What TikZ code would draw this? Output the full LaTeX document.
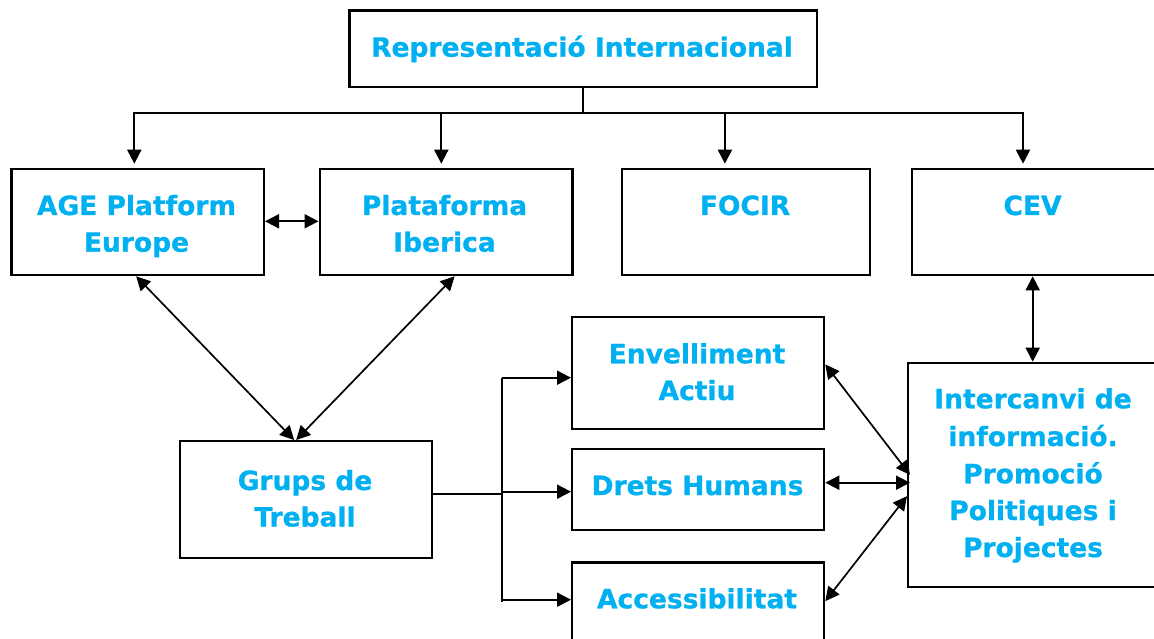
\documentclass[tikz,border=0pt]{standalone}
\usepackage{fontspec}
\setmainfont{DejaVu Sans}[BoldFeatures={FakeBold=0.8}]
\usetikzlibrary{arrows.meta}
\definecolor{txtblue}{RGB}{0,176,240}
\begin{document}
\begin{tikzpicture}[x=1pt,y=-1pt,
  box/.style={draw=black,line width=2.3pt,rectangle,anchor=north west,inner sep=0pt},
  lbl/.style={anchor=base,text=txtblue,font=\fontsize{26.5}{37}\selectfont\bfseries,inner sep=0pt},
  conn/.style={line width=2pt},
  diag/.style={line width=1.7pt},
  tri/.style={-{Triangle[length=14pt,width=14pt]}},
  dtri/.style={{Triangle[length=14pt,width=14pt]}-{Triangle[length=14pt,width=14pt]}}]
\useasboundingbox (0,0) rectangle (1154,639);
\fill[white] (0,0) rectangle (1154,639);

% boxes
\node[box,minimum width=467.7pt,minimum height=76.7pt] (rep) at (348.3,9.3) {};
\node[box,minimum width=252.4pt,minimum height=106.3pt] (age) at (10.3,167.7) {};
\node[box,minimum width=252.9pt,minimum height=106.3pt] (plat) at (318.5,167.7) {};
\node[box,minimum width=248pt,minimum height=106.3pt] (focir) at (620.8,167.7) {};
\node[box,minimum width=250pt,minimum height=106.3pt] (cev) at (910.8,167.7) {};
\node[box,minimum width=252pt,minimum height=116.7pt] (grups) at (179,440) {};
\node[box,minimum width=252pt,minimum height=112pt] (env) at (571,315.7) {};
\node[box,minimum width=252pt,minimum height=80.7pt] (drets) at (571,448) {};
\node[box,minimum width=252pt,minimum height=85pt] (acc) at (571,561.3) {};
\node[box,minimum width=253pt,minimum height=224pt] (inter) at (907,361.7) {};

% labels
\node[lbl] (trep) at (582,56.7) {Representació Internacional};
\node[lbl] (tage1) at (136.5,215) {AGE Platform};
\node[lbl] (tage2) at (136.5,251.7) {Europe};
\node[lbl] (tplat1) at (444.5,215) {Plataforma};
\node[lbl] (tplat2) at (444.5,251.7) {Iberica};
\node[lbl] (tfocir) at (745,215) {FOCIR};
\node[lbl] (tcev) at (1032.5,215) {CEV};
\node[lbl] (tgr1) at (305,490) {Grups de};
\node[lbl] (tgr2) at (305,526.5) {Treball};
\node[lbl] (tenv1) at (697,363.3) {Envelliment};
\node[lbl] (tenv2) at (697,400) {Actiu};
\node[lbl] (tdrets) at (697.5,495) {Drets Humans};
\node[lbl] (tacc) at (697,608.3) {Accessibilitat};
\node[lbl] (tin1) at (1033,408.3) {Intercanvi de};
\node[lbl] (tin2) at (1033,446) {informació.};
\node[lbl] (tin3) at (1033,483.3) {Promoció};
\node[lbl] (tin4) at (1033,520) {Politiques i};
\node[lbl] (tin5) at (1033,557) {Projectes};

% top distribution
\coordinate (bl) at (134.3,112.7);
\coordinate (b2) at (441.3,112.7);
\coordinate (b3) at (724.9,112.7);
\coordinate (br) at (1023,112.7);
\draw[conn] (rep.south) -- (rep.south |- bl);
\draw[conn,line cap=rect] (bl) -- (br);
\draw[conn,tri,shorten >=4pt] (bl) -- (bl |- age.north);
\draw[conn,tri,shorten >=4pt] (b2) -- (b2 |- plat.north);
\draw[conn,tri,shorten >=4pt] (b3) -- (b3 |- focir.north);
\draw[conn,tri,shorten >=4pt] (br) -- (br |- cev.north);

% AGE <-> Plataforma
\coordinate (ap) at (290,221.3);
\draw[conn,dtri] (age.east |- ap) -- (plat.west |- ap);

% diagonals to Grups
\draw[diag,dtri] ([xshift=-1.5pt]age.south) -- ([xshift=-12pt]grups.north);
\draw[diag,dtri] ([xshift=8.5pt]plat.south) -- ([xshift=-10pt]grups.north);

% Grups bus
\coordinate (gb) at (502,494);
\coordinate (bt) at (502,377.7);
\coordinate (bb) at (502,602);
\coordinate (bm) at (502,491.7);
\coordinate (ba) at (502,599.7);
\draw[conn] (grups.east |- gb) -- (gb);
\draw[conn] (bt) -- (bb);
\draw[conn,tri] (bt) -- (bt -| env.west);
\draw[conn,tri] (bm) -- (bm -| drets.west);
\draw[conn,tri] (ba) -- (ba -| acc.west);

% right side
\coordinate (dp) at (860,482.7);
\draw[diag,dtri] ([yshift=8.4pt]env.east) -- ([xshift=3pt]inter.west);
\draw[conn,dtri] (drets.east |- dp) -- ([xshift=3pt]inter.west |- dp);
\draw[diag,dtri] ([yshift=3.8pt]acc.east) -- ([yshift=-21.3pt]inter.west);

% CEV <-> Intercanvi
\coordinate (ci) at (1032.7,300);
\draw[conn,dtri] (ci |- cev.south) -- (ci |- inter.north);
\end{tikzpicture}
\end{document}
